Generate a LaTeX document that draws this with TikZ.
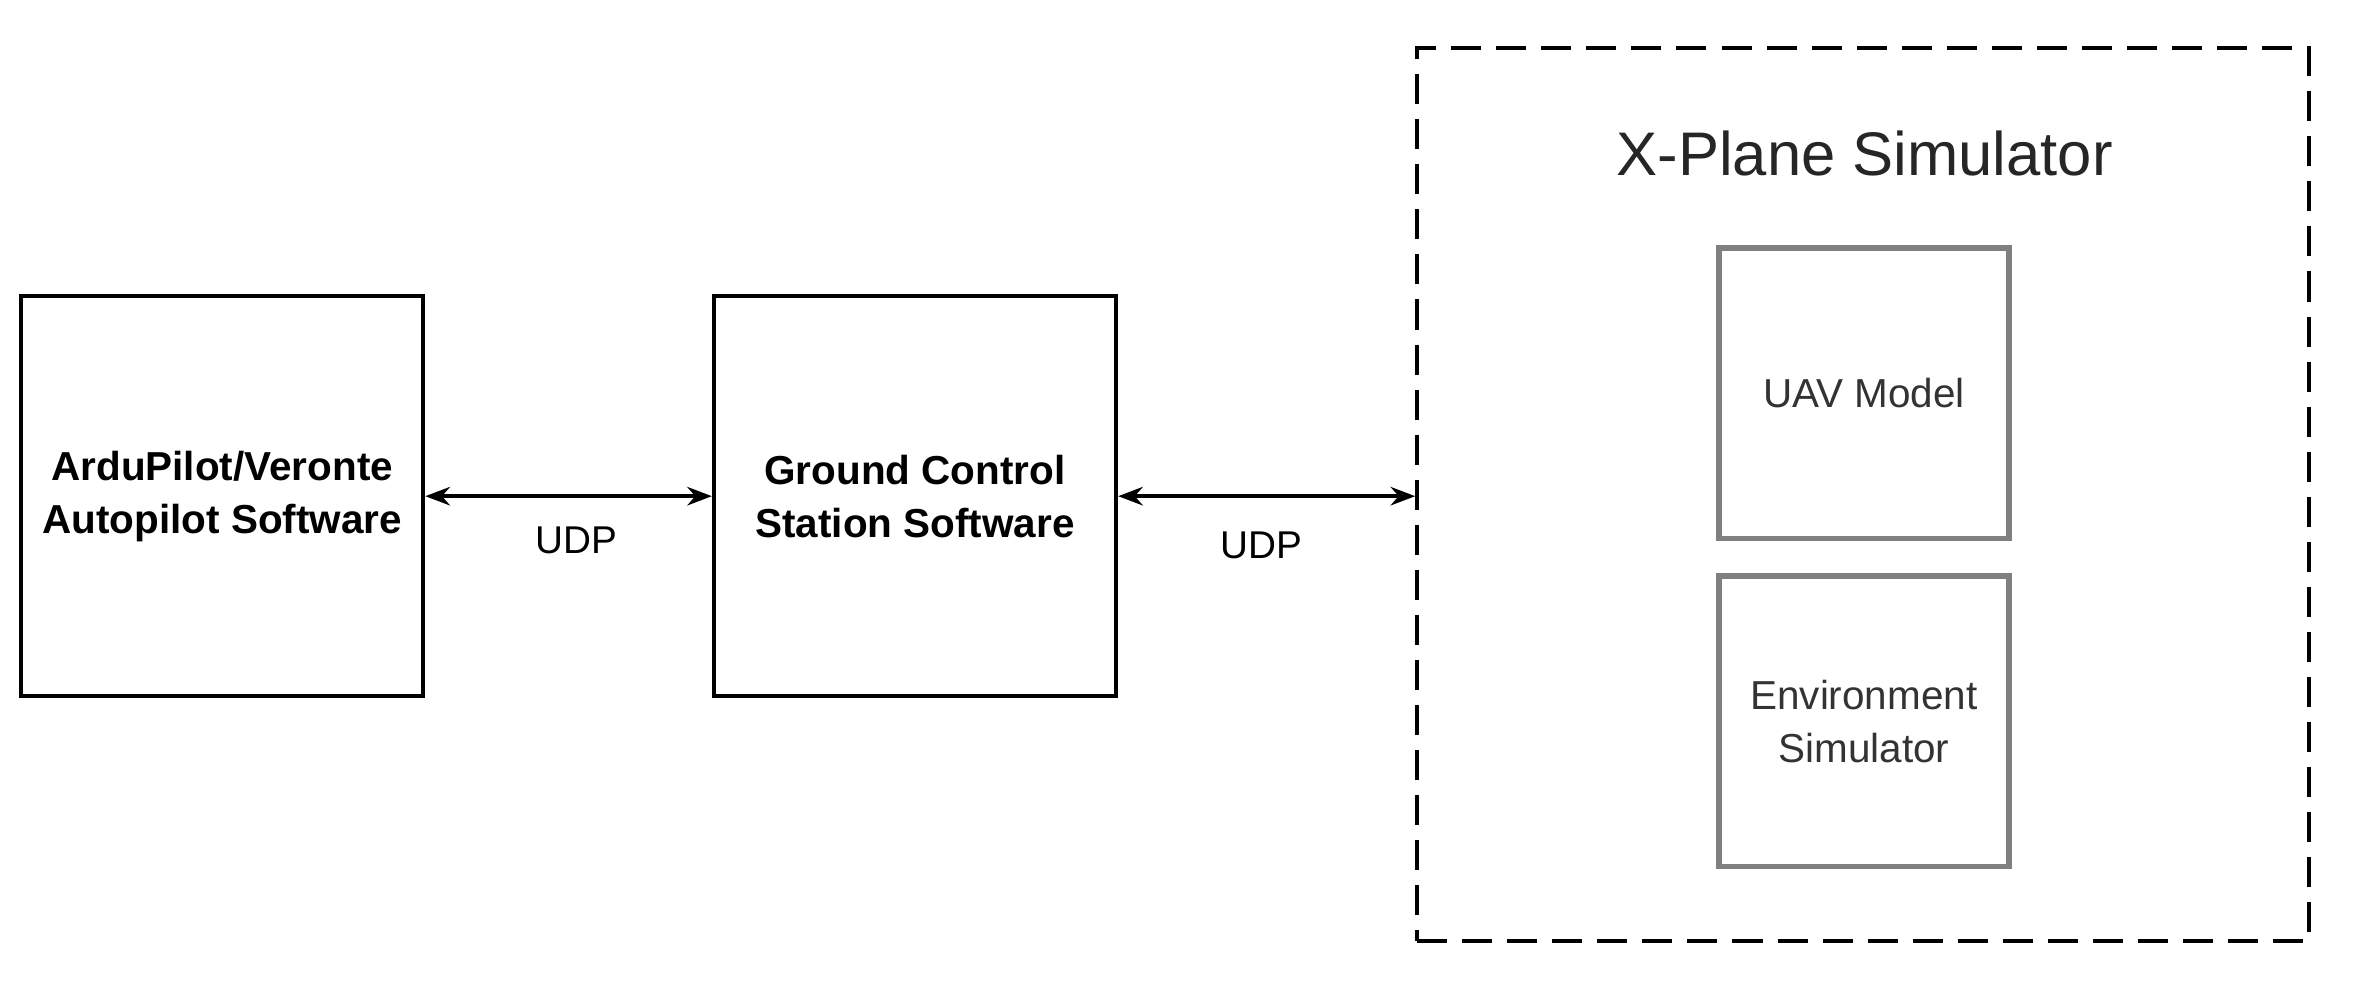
\documentclass[tikz,border=0pt]{standalone}
\usepackage{fontspec}
\setmainfont{Liberation Sans}
\usetikzlibrary{arrows.meta}

\tikzset{
  block/.style = {draw, line width=1.1pt, minimum width=4.02cm, minimum height=4.0cm,
                  align=center, font=\fontsize{11.5}{15}\selectfont\bfseries},
  subblock/.style = {draw=gray, line width=1.6pt, minimum width=2.9cm, minimum height=2.9cm,
                     align=center, font=\fontsize{11.5}{15}\selectfont, text=black!80},
  link/.style = {line width=1.1pt, {Stealth[length=7pt]}-{Stealth[length=7pt]}},
  lbl/.style = {font=\fontsize{11}{14}\selectfont}
}

\begin{document}
\begin{tikzpicture}[x=0.015cm, y=-0.015cm]
\useasboundingbox (0,0) rectangle (1568,654);

\node [block] (autopilot) at (148, 330.5) {ArduPilot/Veronte\\Autopilot Software};
\node [block] (gcs) at (609.5, 330.5) {Ground Control\\Station Software};
\node [draw, line width=1.1pt, dash pattern=on 0.3cm off 0.15cm,
       minimum width=8.91cm, minimum height=8.92cm] (xplane) at (1241, 329.5) {};
\node [font=\fontsize{17.5}{20}\selectfont, text=black!85] (title) at (1242, 102) {X-Plane Simulator};
\node [subblock] (uav) at (1241.5, 262) {UAV Model};
\node [subblock] (env) at (1241.5, 480.5) {Environment\\Simulator};

\draw [link] (autopilot.east) -- (gcs.west);
\draw [link] (gcs.east) -- (gcs.east -| xplane.west);
\node [lbl] (udp1) at (384, 360) {UDP};
\node [lbl] (udp2) at (840, 363) {UDP};

\end{tikzpicture}
\end{document}
